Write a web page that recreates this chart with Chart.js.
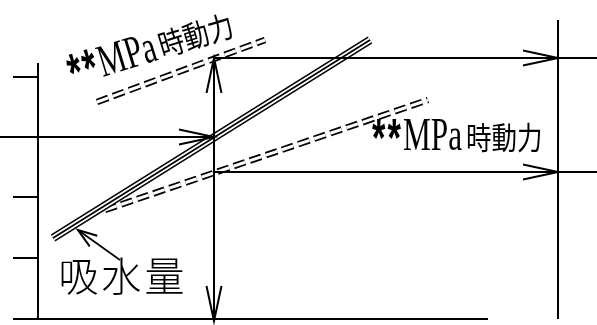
<!DOCTYPE html>
<html>
<head>
<meta charset="utf-8">
<script src="https://cdn.jsdelivr.net/npm/chart.js"></script>
<style>
  html, body { margin: 0; padding: 0; background: #ffffff; }
  #wrap { width: 597px; height: 325px; position: relative; }
</style>
</head>
<body>
<div id="wrap"><canvas id="c"></canvas></div>
<script>
// ---- diagram values (abstract units; origin at the lower-left axis corner) ----
const axisTicks = [61, 122, 242];            // short marks on the left axis
const leftAxis = [[0, 0], [0, 256]];
const bottomAxis = [[-25, 0], [450, 0]];
const inputLevel = [[-38, 182], [176, 182]];  // horizontal arrow into the point
const pressureLine = [[176, -2], [176, 261]]; // vertical double-headed arrow
const upperOutput = [[176, 261], [559, 261]];
const lowerOutput = [[176, 147], [559, 147]];
const rightAxis = [[520, 0], [520, 299]];
const pointer = [[40, 89], [82, 59]];         // arrow pointing at the absorption line

const absorptionLine = [[15, 81], [332, 279]];   // triple line (吸水量)
const upperPowerLine = [[59, 217], [227, 279]];  // double dashed
const lowerPowerLine = [[67, 109], [390, 219]];  // double dashed

// arrow tips and the point each shaft comes from
const arrowTips = [
  { tip: [176, 182], from: [-38, 182] },
  { tip: [176, 261], from: [176, -2] },
  { tip: [176, -2], from: [176, 261] },
  { tip: [520, 261], from: [176, 261] },
  { tip: [520, 147], from: [176, 147] }
];
const pointerTip = { tip: [40, 89], from: [82, 59] };

const labelPower = '**MPa時動力';
const labelAbsorb = '吸水量';
const powerLabels = [
  { x: 334, y: 169, angle: 0 },
  { x: 35, y: 233, angle: -17 }
];
const absorbLabel = { x: 83.5, y: 43.5 };

// ---- build datasets ----
const pts = a => a.map(p => ({ x: p[0], y: p[1] }));
const datasets = [];
function seg(points, opts) {
  datasets.push(Object.assign({
    data: pts(points), showLine: true, pointRadius: 0, borderColor: '#000',
    borderWidth: 2, fill: false, order: 1, borderCapStyle: 'butt'
  }, opts || {}));
}
function arrowHead(a, len, half) {
  const dx = a.from[0] - a.tip[0], dy = a.from[1] - a.tip[1];
  const L = Math.hypot(dx, dy), ux = dx / L, uy = dy / L;
  const nx = -uy, ny = ux;
  seg([[a.tip[0] + ux * len + nx * half, a.tip[1] + uy * len + ny * half],
       a.tip,
       [a.tip[0] + ux * len - nx * half, a.tip[1] + uy * len - ny * half]]);
}

seg(leftAxis);
seg(bottomAxis);
axisTicks.forEach(v => seg([[-25, v], [0, v]]));
seg(inputLevel);
seg(pressureLine);
seg(upperOutput);
seg(lowerOutput);
seg(rightAxis);
seg(pointer, { borderWidth: 1.6 });
arrowTips.forEach(a => arrowHead(a, 35, 7.5));
arrowHead(pointerTip, 19, 6.5);

// triple line
seg(absorptionLine, { borderWidth: 8.5, order: 12 });
seg(absorptionLine, { borderWidth: 5.2, borderColor: '#fff', order: 11 });
seg(absorptionLine, { borderWidth: 1.7, order: 10 });
// double dashed lines
[upperPowerLine, lowerPowerLine].forEach((l, i) => {
  seg(l, { borderWidth: 6.5, borderDash: [12, 5], order: 22 + i * 2 });
  seg(l, { borderWidth: 3, borderDash: [12, 5], borderColor: '#fff', order: 21 + i * 2 });
});

// ---- text plugin ----
const textPlugin = {
  id: 'labels',
  afterDatasetsDraw(chart) {
    const ctx = chart.ctx, xs = chart.scales.x, ys = chart.scales.y;
    ctx.save();
    ctx.fillStyle = '#000';
    ctx.textBaseline = 'alphabetic';
    ctx.textAlign = 'left';
    powerLabels.forEach(l => {
      const px = xs.getPixelForValue(l.x), py = ys.getPixelForValue(l.y);
      ctx.save();
      ctx.translate(px, py);
      ctx.rotate(l.angle * Math.PI / 180);
      // "**" – two separate asterisks
      Array.from(labelPower.slice(0, 2)).forEach((ch, i) => {
        ctx.save();
        ctx.font = 'bold 54px "Liberation Sans"';
        ctx.translate(i * 15.5, 0);
        ctx.scale(0.64, 1);
        ctx.fillText(ch, 0, 6);
        ctx.restore();
      });
      // "MPa"
      ctx.save();
      ctx.font = '46px "Liberation Serif"';
      ctx.translate(31, 0);
      ctx.scale(0.68, 1);
      ctx.fillText(labelPower.slice(2, 5), 0, 0);
      ctx.restore();
      // "時動力"
      ctx.save();
      ctx.font = '29px "Noto Sans CJK JP"';
      ctx.translate(94, -1);
      ctx.scale(0.88, 1.06);
      ctx.fillText(labelPower.slice(5), 0, 0);
      ctx.restore();
      ctx.restore();
    });
    // 吸水量
    const cx = xs.getPixelForValue(absorbLabel.x), cy = ys.getPixelForValue(absorbLabel.y);
    ctx.font = '200 40px "Noto Sans CJK JP"';
    ctx.textAlign = 'center';
    ctx.textBaseline = 'middle';
    const chars = Array.from(labelAbsorb);
    const step = 43;
    chars.forEach((ch, i) => {
      ctx.fillText(ch, cx + (i - (chars.length - 1) / 2) * step, cy);
    });
    ctx.restore();
  }
};

new Chart(document.getElementById('c'), {
  type: 'scatter',
  data: { datasets },
  options: {
    responsive: true,
    maintainAspectRatio: false,
    animation: false,
    devicePixelRatio: 1,
    layout: { padding: 0 },
    plugins: { legend: { display: false }, tooltip: { enabled: false } },
    scales: {
      x: { type: 'linear', min: -38, max: 559, display: false },
      y: { type: 'linear', min: -6, max: 319, display: false }
    }
  },
  plugins: [textPlugin]
});
</script>
</body>
</html>
